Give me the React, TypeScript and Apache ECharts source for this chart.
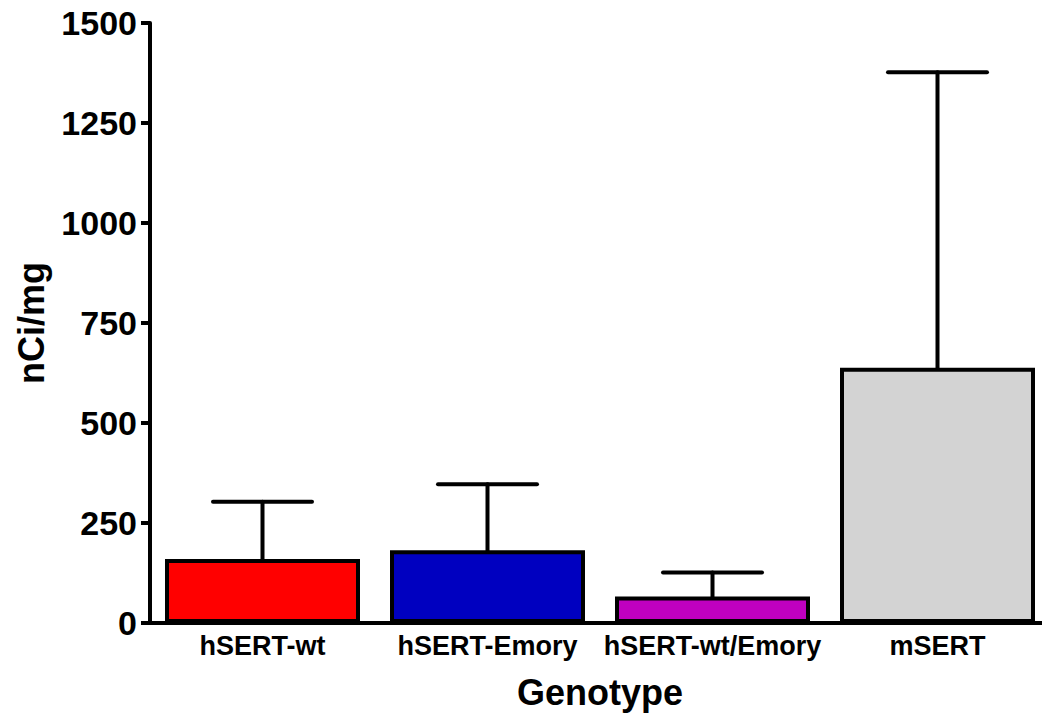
import React, { useEffect, useRef } from "react";
import * as echarts from "echarts";

const categories = ["hSERT-wt", "hSERT-Emory", "hSERT-wt/Emory", "mSERT"];
const means = [160, 182, 66, 638];
const errorTops = [303, 347, 126, 1377];
const barColors = ["#FF0000", "#0000C0", "#C000C0", "#D3D3D3"];
const yTicks = [0, 250, 500, 750, 1000, 1250, 1500];

const FONT = "'Liberation Sans', Arial, sans-serif";

export default function App() {
  const ref = useRef<HTMLDivElement>(null);
  useEffect(() => {
    if (!ref.current) return;
    const chart = echarts.init(ref.current, null, { renderer: "svg" });
    const errData = categories.map((c, i) => [i, means[i], errorTops[i]]);
    chart.setOption({
      animation: false,
      backgroundColor: "#FFFFFF",
      grid: {
        left: 150,
        top: 23,
        width: 900,
        height: 600,
        containLabel: false,
        outerBoundsMode: "none",
      },
      xAxis: {
        type: "category",
        data: categories,
        name: "Genotype",
        nameLocation: "middle",
        nameGap: 51,
        nameTextStyle: { fontFamily: FONT, fontWeight: "bold", fontSize: 36, color: "#000" },
        axisLine: { lineStyle: { color: "#000", width: 4 } },
        axisTick: { alignWithLabel: true, length: 9, lineStyle: { color: "#000", width: 4 } },
        axisLabel: { fontFamily: FONT, fontWeight: "bold", fontSize: 27, color: "#000", margin: 9, interval: 0 },
        splitLine: { show: false },
      },
      yAxis: {
        type: "value",
        min: yTicks[0],
        max: yTicks[yTicks.length - 1],
        interval: 250,
        name: "nCi/mg",
        nameLocation: "middle",
        nameGap: 101,
        nameTextStyle: { fontFamily: FONT, fontWeight: "bold", fontSize: 36, color: "#000" },
        axisLine: { show: true, lineStyle: { color: "#000", width: 4 } },
        axisTick: { show: true, length: 9, lineStyle: { color: "#000", width: 4 } },
        axisLabel: {
          fontFamily: FONT,
          fontWeight: "bold",
          fontSize: 34,
          color: "#000",
          margin: 13,
          formatter: (v: number) => String(v),
        },
        splitLine: { show: false },
      },
      series: [
        {
          type: "bar",
          data: means.map((v, i) => ({
            value: v,
            itemStyle: { color: barColors[i], borderColor: "#000", borderWidth: 4 },
          })),
          barWidth: 195,
          z: 2,
        },
        {
          type: "custom",
          data: errData,
          z: 3,
          renderItem: (params: any, api: any) => {
            const x = api.value(0);
            const lo = api.coord([x, api.value(1)]);
            const hi = api.coord([x, api.value(2)]);
            const half = api.size([1, 0])[0] * 0.22;
            const style = { stroke: "#000", lineWidth: 4, lineCap: "round" };
            return {
              type: "group",
              children: [
                { type: "line", shape: { x1: lo[0], y1: lo[1], x2: hi[0], y2: hi[1] }, style },
                { type: "line", shape: { x1: hi[0] - half, y1: hi[1], x2: hi[0] + half, y2: hi[1] }, style },
              ],
            };
          },
        },
      ],
    });
    return () => chart.dispose();
  }, []);
  return (
    <div
      ref={ref}
      style={{ position: "fixed", left: 0, top: 0, width: 1042, height: 719, background: "#fff" }}
    />
  );
}
